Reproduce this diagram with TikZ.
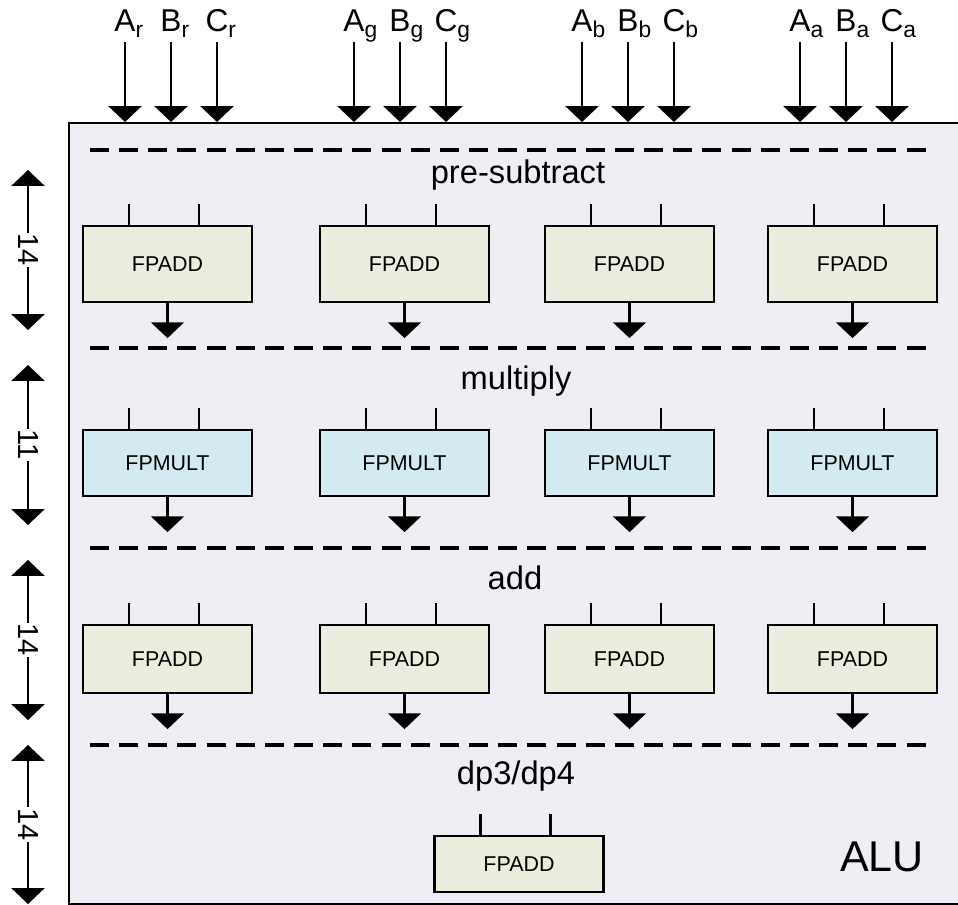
\documentclass[tikz,border=0pt]{standalone}
\usepackage{fontspec}
\setmainfont{Liberation Sans}
\usetikzlibrary{arrows.meta}
\definecolor{alubg}{RGB}{239,238,244}
\definecolor{addfill}{RGB}{234,238,222}
\definecolor{multfill}{RGB}{211,234,240}
\newcommand{\chansub}[1]{\rlap{\raisebox{-0.35ex}{\fontsize{13}{15}\selectfont #1}}}

\begin{document}
\begin{tikzpicture}[x=0.02cm, y=-0.02cm,
                  every node/.style={font=\fontsize{12.2}{14}\selectfont},
                  alubox/.style={draw, line width=1.3pt, fill=alubg, anchor=north west, minimum width=17.9cm, minimum height=15.62cm, inner sep=0pt},
                  unit/.style={rectangle, draw, line width=1.3pt, minimum width=3.38cm, align=center, inner sep=0pt},
                  fpadd/.style={unit, fill=addfill},
                  fpmult/.style={unit, fill=multfill},
                  stage/.style={anchor=base, font=\fontsize{18.6}{21}\selectfont},
                  inlabel/.style={anchor=base, inner sep=0pt, font=\fontsize{18}{20}\selectfont},
                  sepline/.style={line width=1.9pt, dash pattern=on 10.8pt off 5.8pt},
                  arrow/.style={line width=1.3pt, -{Triangle[width=18.7pt, length=9pt]}},
                  dimarrow/.style={line width=1.3pt, {Triangle[width=18.7pt, length=9pt]}-{Triangle[width=18.7pt, length=9pt]}},
                  dimlabel/.style={fill=white, rotate=-90, inner sep=0.5pt, font=\fontsize{16.5}{18}\selectfont}
            ]

            \useasboundingbox (0,0) rectangle (958,905);

            % ALU frame
            \node[alubox] (alu) at (68,122) {};
            \node[anchor=base, font=\fontsize{24.5}{28}\selectfont] (alulabel) at (882,872) {ALU};

            % Input operands per channel
            \foreach \grp/\xa in {r/125, g/354, b/582, a/800} {
                  \foreach \port [count=\i from 0] in {A,B,C} {
                        \node[inlabel] (\port\grp) at (\xa+46*\i,32) {\port\chansub{\grp}};
                        \coordinate (in\port\grp) at (\xa+46*\i,42);
                        \draw[arrow] (in\port\grp) -- (in\port\grp |- alu.north);
                  }
            }

            % Stage separators and titles
            \foreach \y in {150,348,548,745}
                  \draw[sepline] (90,\y) -- (930,\y);
            \node[stage] (presub) at (518,184) {pre-subtract};
            \node[stage] (multiply) at (516,390) {multiply};
            \node[stage] (addlbl) at (515,590) {add};
            \node[stage] (dplbl) at (516,785) {dp3/dp4};

            % Units
            \foreach \col/\xc in {1/167.5, 2/404.5, 3/629.5, 4/852.5} {
                  \node[fpadd, minimum height=1.52cm] (pre\col) at (\xc,264) {FPADD};
                  \node[fpmult, minimum height=1.32cm] (mul\col) at (\xc,463) {FPMULT};
                  \node[fpadd, minimum height=1.36cm] (add\col) at (\xc,659) {FPADD};
            }
            \node[fpadd, minimum height=1.12cm] (dp) at (519,864) {FPADD};

            % Unit inputs and outputs
            \foreach \n in {pre1,pre2,pre3,pre4,mul1,mul2,mul3,mul4,add1,add2,add3,add4,dp} {
                  \draw[line width=1.3pt] ([xshift=-0.77cm]\n.north) -- ++(0,-21);
                  \draw[line width=1.3pt] ([xshift=0.63cm]\n.north) -- ++(0,-21);
            }
            \foreach \n in {pre1,pre2,pre3,pre4,mul1,mul2,mul3,mul4,add1,add2,add3,add4}
                  \draw[arrow] (\n.south) -- ++(0,35);

            % Stage latencies
            \foreach \n/\ya/\yb/\val in {1/170/330/14, 2/365/525/11, 3/560/720/14, 4/745/904/14} {
                  \coordinate (dim\n top) at (28,\ya);
                  \coordinate (dim\n bot) at (28,\yb);
                  \draw[dimarrow] (dim\n top) -- node[dimlabel] (lat\n) {\val} (dim\n bot);
            }

      \end{tikzpicture}
\end{document}
